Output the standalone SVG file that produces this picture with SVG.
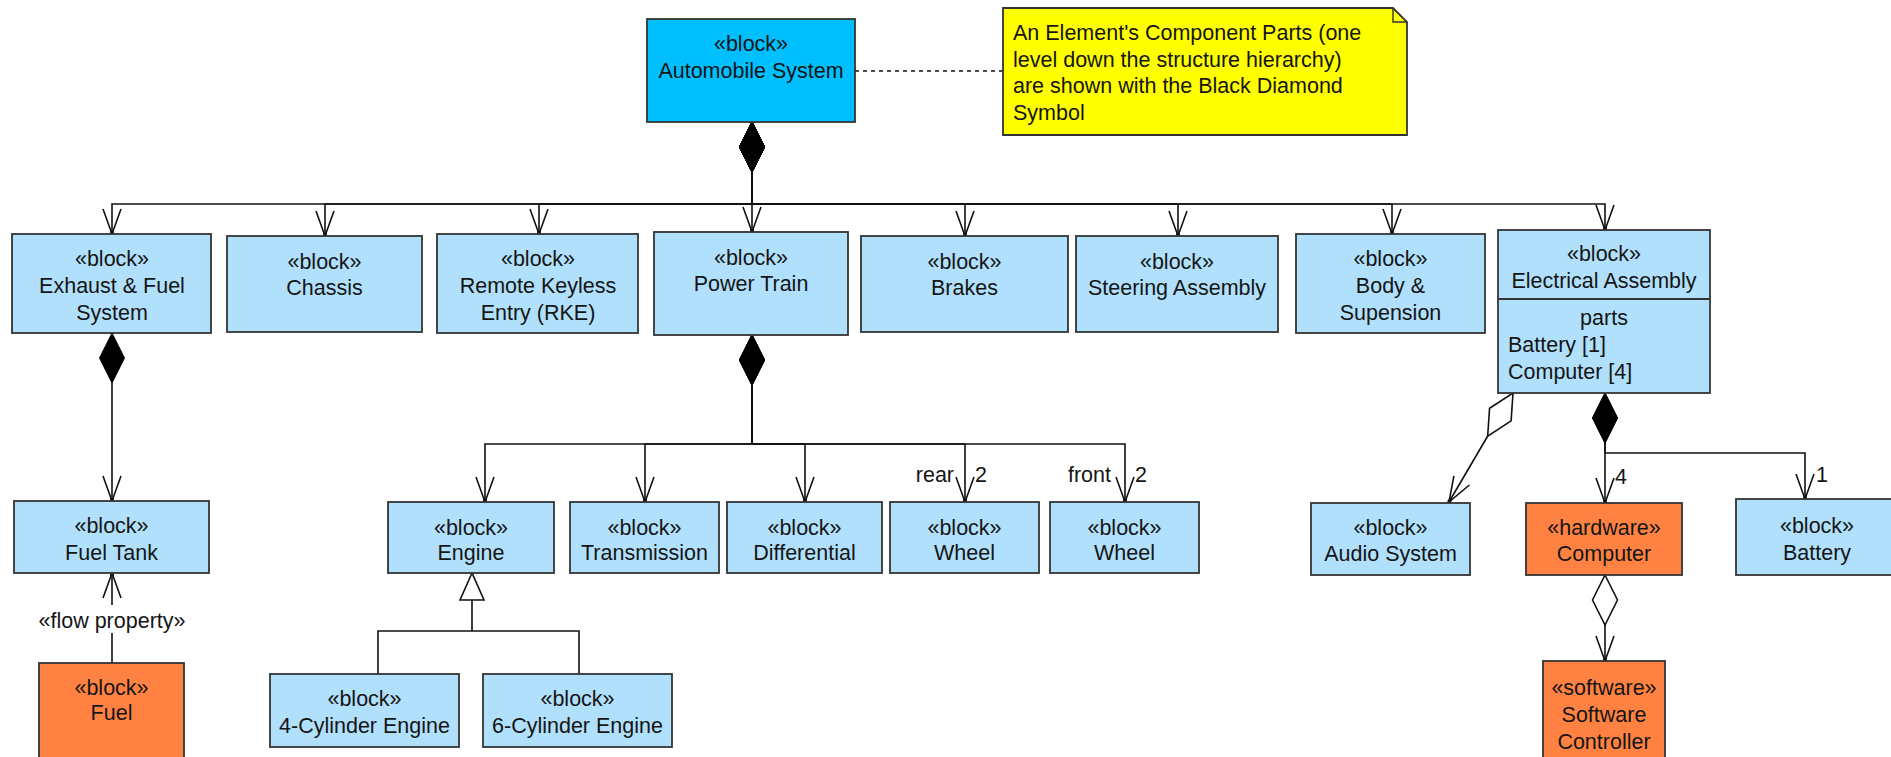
<svg xmlns="http://www.w3.org/2000/svg" width="1891" height="757" viewBox="0 0 1891 757">
  <style>
    text { font-family: "Liberation Sans", Arial, sans-serif; font-size: 21.5px; fill: #151515; }
    .c { text-anchor: middle; }
    .e { text-anchor: end; }
    .box { stroke: #333; stroke-width: 1.8; }
    .blk { fill: #B0E0FC; }
    .top { fill: #00BFFF; }
    .hw { fill: #FF8242; }
    .note { fill: #FFFF00; stroke: #333; stroke-width: 1.8; }
    .ln { fill: none; stroke: #111; stroke-width: 1.6; }
    .part { marker-start: url(#comp); marker-end: url(#open); }
    .shared { marker-start: url(#agg); marker-end: url(#open); }
  </style>
  <defs>
    <!-- open arrowhead at the part end -->
    <marker id="open" markerUnits="userSpaceOnUse" markerWidth="34" markerHeight="26" viewBox="-30 -13 34 26" refX="0" refY="0" orient="auto" overflow="visible">
      <path d="M-25,-9 L0,0 L-25,9" fill="none" stroke="#111" stroke-width="1.6"/>
      <rect x="-3" y="-1.8" width="3.6" height="3.6" fill="#111"/>
    </marker>
    <!-- composition (black diamond) at the whole end -->
    <marker id="comp" markerUnits="userSpaceOnUse" markerWidth="54" markerHeight="30" viewBox="-2 -15 54 30" refX="0" refY="0" orient="auto" overflow="visible">
      <path d="M0,0 L25,-12.5 L50,0 L25,12.5 Z" fill="#000" stroke="#000" stroke-width="1"/>
    </marker>
    <!-- shared aggregation (open diamond) -->
    <marker id="agg" markerUnits="userSpaceOnUse" markerWidth="54" markerHeight="30" viewBox="-2 -15 54 30" refX="0" refY="0" orient="auto" overflow="visible">
      <path d="M0,0 L25,-12.5 L50,0 L25,12.5 Z" fill="#fff" stroke="#111" stroke-width="1.6"/>
    </marker>
    <!-- generalization triangle -->
    <marker id="gen" markerUnits="userSpaceOnUse" markerWidth="32" markerHeight="30" viewBox="-30 -15 32 30" refX="0" refY="0" orient="auto" overflow="visible">
      <path d="M0,0 L-27,-12 L-27,12 Z" fill="#fff" stroke="#111" stroke-width="1.6"/>
    </marker>
  </defs>

  <!-- connectors -->
  <g id="connectors">
    <!-- note anchor -->
    <path class="ln" d="M855,71 H1003" stroke-dasharray="4,4"/>
    <!-- Automobile System parts -->
    <path class="ln part" d="M752,122 V204 H112 V234"/>
    <path class="ln part" d="M752,122 V204 H325 V236"/>
    <path class="ln part" d="M752,122 V204 H539 V234"/>
    <path class="ln part" d="M752,122 V232"/>
    <path class="ln part" d="M752,122 V204 H965 V236"/>
    <path class="ln part" d="M752,122 V204 H1178 V236"/>
    <path class="ln part" d="M752,122 V204 H1392 V234"/>
    <path class="ln part" d="M752,122 V204 H1605 V230"/>
    <!-- Exhaust & Fuel System parts -->
    <path class="ln part" d="M112,333 V501"/>
    <!-- flow property -->
    <path class="ln" d="M112,663 V633"/>
    <path class="ln" d="M112,605 V573" marker-end="url(#open)"/>
    <!-- Power Train parts -->
    <path class="ln part" d="M752,335 V444 H485 V502"/>
    <path class="ln part" d="M752,335 V444 H645 V502"/>
    <path class="ln part" d="M752,335 V444 H805 V502"/>
    <path class="ln part" d="M752,335 V444 H965 V502"/>
    <path class="ln part" d="M752,335 V444 H1125 V502"/>
    <!-- Engine specializations -->
    <path class="ln" d="M378,674 V631 H579 V674"/>
    <path class="ln" d="M472,631 V573" marker-end="url(#gen)"/>
    <!-- Electrical Assembly parts -->
    <path class="ln shared" d="M1513,393 L1449,502"/>
    <path class="ln part" d="M1605,393 V503"/>
    <path class="ln part" d="M1605,393 V453 H1805 V499"/>
    <!-- Computer / software -->
    <path class="ln shared" d="M1605,575 V661"/>
    <!-- role and multiplicity labels -->
    <text class="e" x="954" y="482">rear</text>
    <text x="975" y="482">2</text>
    <text class="e" x="1111" y="482">front</text>
    <text x="1135" y="482">2</text>
    <text x="1615" y="484">4</text>
    <text x="1816" y="482">1</text>
    <text class="c" x="112" y="628">«flow property»</text>
  </g>

  <g id="note">
    <path class="note" d="M1003,8 H1393 L1407,22 V135 H1003 Z"/>
    <path d="M1393,8 V22 H1407" fill="none" stroke="#333" stroke-width="1.4"/>
    <text x="1013" y="40">An Element's Component Parts (one</text>
    <text x="1013" y="66.5">level down the structure hierarchy)</text>
    <text x="1013" y="93">are shown with the Black Diamond</text>
    <text x="1013" y="119.5">Symbol</text>
  </g>

  <g id="automobile-system">
    <rect class="box top" x="647" y="19" width="208" height="103"/>
    <text class="c" x="751" y="51">«block»</text>
    <text class="c" x="751" y="78">Automobile System</text>
  </g>

  <g id="exhaust-fuel-system">
    <rect class="box blk" x="12" y="234" width="199" height="99"/>
    <text class="c" x="112" y="265.5">«block»</text>
    <text class="c" x="112" y="292.5">Exhaust &amp; Fuel</text>
    <text class="c" x="112" y="319.5">System</text>
  </g>

  <g id="chassis">
    <rect class="box blk" x="227" y="236" width="195" height="96"/>
    <text class="c" x="324.5" y="268.5">«block»</text>
    <text class="c" x="324.5" y="294.5">Chassis</text>
  </g>

  <g id="remote-keyless-entry">
    <rect class="box blk" x="437" y="234" width="201" height="99"/>
    <text class="c" x="538" y="265.5">«block»</text>
    <text class="c" x="538" y="292.5">Remote Keyless</text>
    <text class="c" x="538" y="319.5">Entry (RKE)</text>
  </g>

  <g id="power-train">
    <rect class="box blk" x="654" y="232" width="194" height="103"/>
    <text class="c" x="751" y="264.5">«block»</text>
    <text class="c" x="751" y="290.5">Power Train</text>
  </g>

  <g id="brakes">
    <rect class="box blk" x="861" y="236" width="207" height="96"/>
    <text class="c" x="964.5" y="268.5">«block»</text>
    <text class="c" x="964.5" y="294.5">Brakes</text>
  </g>

  <g id="steering-assembly">
    <rect class="box blk" x="1076" y="236" width="202" height="96"/>
    <text class="c" x="1177" y="268.5">«block»</text>
    <text class="c" x="1177" y="294.5">Steering Assembly</text>
  </g>

  <g id="body-suspension">
    <rect class="box blk" x="1296" y="234" width="189" height="99"/>
    <text class="c" x="1390.5" y="265.5">«block»</text>
    <text class="c" x="1390.5" y="292.5">Body &amp;</text>
    <text class="c" x="1390.5" y="319.5">Supension</text>
  </g>

  <g id="electrical-assembly">
    <rect class="box blk" x="1498" y="230" width="212" height="163"/>
    <line x1="1498" y1="299" x2="1710" y2="299" stroke="#333" stroke-width="1.8"/>
    <text class="c" x="1604" y="261">«block»</text>
    <text class="c" x="1604" y="287.5">Electrical Assembly</text>
    <text class="c" x="1604" y="325">parts</text>
    <text x="1508" y="352">Battery [1]</text>
    <text x="1508" y="378.5">Computer [4]</text>
  </g>

  <g id="fuel-tank">
    <rect class="box blk" x="14" y="501" width="195" height="72"/>
    <text class="c" x="111.5" y="532.5">«block»</text>
    <text class="c" x="111.5" y="559.5">Fuel Tank</text>
  </g>

  <g id="fuel">
    <rect class="box hw" x="39" y="663" width="145" height="110"/>
    <text class="c" x="111.5" y="694.5">«block»</text>
    <text class="c" x="111.5" y="719.5">Fuel</text>
  </g>

  <g id="engine">
    <rect class="box blk" x="388" y="502" width="166" height="71"/>
    <text class="c" x="471" y="534.5">«block»</text>
    <text class="c" x="471" y="559.5">Engine</text>
  </g>

  <g id="transmission">
    <rect class="box blk" x="570" y="502" width="149" height="71"/>
    <text class="c" x="644.5" y="534.5">«block»</text>
    <text class="c" x="644.5" y="559.5">Transmission</text>
  </g>

  <g id="differential">
    <rect class="box blk" x="727" y="502" width="155" height="71"/>
    <text class="c" x="804.5" y="534.5">«block»</text>
    <text class="c" x="804.5" y="559.5">Differential</text>
  </g>

  <g id="wheel-rear">
    <rect class="box blk" x="890" y="502" width="149" height="71"/>
    <text class="c" x="964.5" y="534.5">«block»</text>
    <text class="c" x="964.5" y="559.5">Wheel</text>
  </g>

  <g id="wheel-front">
    <rect class="box blk" x="1050" y="502" width="149" height="71"/>
    <text class="c" x="1124.5" y="534.5">«block»</text>
    <text class="c" x="1124.5" y="559.5">Wheel</text>
  </g>

  <g id="four-cylinder-engine">
    <rect class="box blk" x="270" y="674" width="189" height="73"/>
    <text class="c" x="364.5" y="705.5">«block»</text>
    <text class="c" x="364.5" y="732.5">4-Cylinder Engine</text>
  </g>

  <g id="six-cylinder-engine">
    <rect class="box blk" x="483" y="674" width="189" height="73"/>
    <text class="c" x="577.5" y="705.5">«block»</text>
    <text class="c" x="577.5" y="732.5">6-Cylinder Engine</text>
  </g>

  <g id="audio-system">
    <rect class="box blk" x="1311" y="503" width="159" height="72"/>
    <text class="c" x="1390.5" y="534.5">«block»</text>
    <text class="c" x="1390.5" y="561">Audio System</text>
  </g>

  <g id="computer">
    <rect class="box hw" x="1526" y="503" width="156" height="72"/>
    <text class="c" x="1604" y="534.5">«hardware»</text>
    <text class="c" x="1604" y="561">Computer</text>
  </g>

  <g id="battery">
    <rect class="box blk" x="1736" y="499" width="162" height="76"/>
    <text class="c" x="1817" y="532.5">«block»</text>
    <text class="c" x="1817" y="559.5">Battery</text>
  </g>

  <g id="software-controller">
    <rect class="box hw" x="1543" y="661" width="122" height="110"/>
    <text class="c" x="1604" y="694.5">«software»</text>
    <text class="c" x="1604" y="721.5">Software</text>
    <text class="c" x="1604" y="748.5">Controller</text>
  </g>
</svg>
